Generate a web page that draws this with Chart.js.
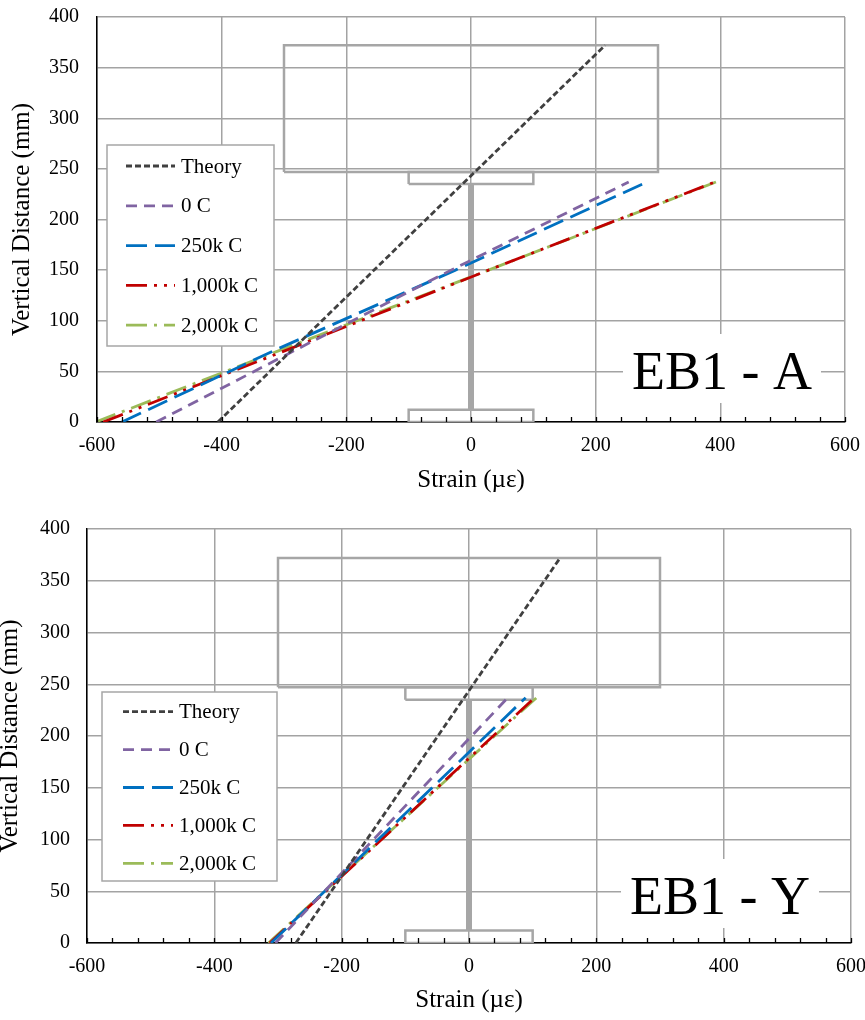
<!DOCTYPE html>
<html>
<head>
<meta charset="utf-8">
<script src="https://cdn.jsdelivr.net/npm/chart.js@4.4.0/dist/chart.umd.min.js"></script>
<style>
  body { margin: 0; background: #fff; }
  .box { position: absolute; left: 0; width: 865px; }
</style>
</head>
<body>
<div class="box" style="top:0;height:505px"><canvas id="chartA" width="865" height="505"></canvas></div>
<div class="box" style="top:505px;height:515px"><canvas id="chartY" width="865" height="515"></canvas></div>
<script>
// axis ticks
const strainTicks = [-600, -400, -200, 0, 200, 400, 600];
const heightTicks = [0, 50, 100, 150, 200, 250, 300, 350, 400];
const minorStep = 40;

const seriesLabels = ['Theory', '0 C', '250k C', '1,000k C', '2,000k C'];

// heights of the points (mm)
const theoryHeights = [0, 372];
const gaugeHeights = [0, 70, 150, 237];

// EB1 - A strains (µε)
const theoryA = [-406, 215];
const strain0A = [-505, -285, -32, 253];
const strain250A = [-560, -318, -25, 282];
const strain1000A = [-590, -300, 28, 391];
const strain2000A = [-602, -310, 28, 393];

// EB1 - Y strains (µε)
const theoryY = [-272, 143];
const strain0Y = [-304, -196, -73, 61];
const strain250Y = [-311, -193, -58, 89];
const strain1000Y = [-313, -190, -50, 103];
const strain2000Y = [-315, -191, -49, 106];

// beam section outline drawn behind the data
const slabX = [-300, 300, 300, -300, -300];
const slabY = [247, 247, 372, 372, 247];
const flangeX = [-100, 100, 100, -100, -100];
const topFlangeY = [235, 235, 247, 247, 235];
const botFlangeY = [0, 0, 12, 12, 0];
const webX = [0, 0];
const webY = [12, 235];

const serif = "'Liberation Serif', 'Times New Roman', serif";
const gridGray = '#a3a3a3';
const beamGray = '#a6a6a6';

const lineStyles = [
    { color: '#404040', dash: [6, 3] },
    { color: '#8064A2', dash: [11, 7] },
    { color: '#0070C0', dash: [21, 8] },
    { color: '#C00000', dash: [21, 7, 3, 7, 3, 7] },
    { color: '#9BBB59', dash: [21, 7, 3, 7] }
];

function pts(xs, ys) {
    return xs.map(function (x, i) { return { x: x, y: ys[i] }; });
}

function beamSet(xs, ys, w) {
    return {
        data: pts(xs, ys), showLine: true, pointRadius: 0,
        borderColor: beamGray, borderWidth: w, order: 20, inLegend: false
    };
}

// legend box inside the plot
const boxLegend = {
    id: 'boxLegend',
    afterDraw: function (chart, args, o) {
        const ctx = chart.ctx;
        ctx.save();
        ctx.fillStyle = '#fff';
        ctx.fillRect(o.x, o.y, o.w, o.h);
        ctx.strokeStyle = beamGray;
        ctx.lineWidth = 1.5;
        ctx.strokeRect(o.x, o.y, o.w, o.h);
        let row = 0;
        chart.data.datasets.forEach(function (ds) {
            if (!ds.inLegend) return;
            const y = o.rowY0 + row * o.rowGap;
            ctx.setLineDash(ds.borderDash);
            ctx.strokeStyle = ds.borderColor;
            ctx.lineWidth = ds.borderWidth;
            ctx.beginPath();
            ctx.moveTo(o.sx0, y);
            ctx.lineTo(o.sx1, y);
            ctx.stroke();
            ctx.setLineDash([]);
            ctx.fillStyle = '#000';
            ctx.font = '21px ' + serif;
            ctx.textBaseline = 'middle';
            ctx.fillText(ds.label, o.tx, y + 1);
            row++;
        });
        ctx.restore();
    }
};

// "EB1 - A" style tag with white backing
const tagLabel = {
    id: 'tagLabel',
    beforeDatasetsDraw: function (chart, args, o) {
        const ctx = chart.ctx;
        ctx.save();
        ctx.font = '54px ' + serif;
        const w = ctx.measureText(o.text).width;
        ctx.fillStyle = '#fff';
        ctx.fillRect(o.x - 9, o.y - 55, w + 18, 69);
        ctx.fillStyle = '#000';
        ctx.textBaseline = 'alphabetic';
        ctx.fillText(o.text, o.x, o.y);
        ctx.restore();
    }
};

// small tick marks along the strain axis
const minorTicks = {
    id: 'minorTicks',
    afterDraw: function (chart) {
        const xs = chart.scales.x;
        const bottom = chart.chartArea.bottom;
        const ctx = chart.ctx;
        ctx.save();
        ctx.strokeStyle = '#000';
        ctx.lineWidth = 1.3;
        for (let v = strainTicks[0]; v <= strainTicks[strainTicks.length - 1]; v += minorStep) {
            const px = Math.round(xs.getPixelForValue(v)) + 0.5;
            ctx.beginPath();
            ctx.moveTo(px, bottom);
            ctx.lineTo(px, bottom - 5);
            ctx.stroke();
        }
        ctx.restore();
    }
};

function buildChart(id, theory, series, g) {
    const datasets = [
        beamSet(slabX, slabY, 2.5),
        beamSet(flangeX, topFlangeY, 2.5),
        beamSet(flangeX, botFlangeY, 2.5),
        beamSet(webX, webY, 6)
    ];
    const all = [pts(theory, theoryHeights)].concat(series.map(function (s) { return pts(s, gaugeHeights); }));
    all.forEach(function (d, i) {
        datasets.push({
            label: seriesLabels[i], data: d, showLine: true, pointRadius: 0,
            borderColor: lineStyles[i].color, borderDash: lineStyles[i].dash,
            borderWidth: 2.8, order: i + 1, inLegend: true
        });
    });

    function noPad(s) { s.paddingTop = 0; s.paddingBottom = 0; s.paddingLeft = 0; s.paddingRight = 0; }

    return new Chart(document.getElementById(id), {
        type: 'scatter',
        data: { datasets: datasets },
        options: {
            responsive: false,
            devicePixelRatio: 1,
            animation: false,
            layout: { padding: { top: g.top, right: g.right, left: 0, bottom: 0 } },
            scales: {
                x: {
                    type: 'linear', min: -600, max: 600,
                    afterBuildTicks: function (s) { s.ticks = strainTicks.map(function (v) { return { value: v }; }); },
                    afterFit: function (s) { s.height = g.xh; noPad(s); },
                    ticks: { color: '#000', font: { family: serif, size: 20 }, padding: 12, maxRotation: 0 },
                    grid: { color: gridGray, lineWidth: 1.5, drawTicks: false },
                    border: { color: '#000', width: 1.5 },
                    title: {
                        display: true, text: 'Strain (µε)', color: '#000',
                        font: { family: serif, size: 25 }, padding: { top: 0, bottom: g.xtp }
                    }
                },
                y: {
                    type: 'linear', min: 0, max: 400,
                    afterBuildTicks: function (s) { s.ticks = heightTicks.map(function (v) { return { value: v }; }); },
                    afterFit: function (s) { s.width = g.yw; noPad(s); },
                    ticks: { color: '#000', font: { family: serif, size: 20 }, padding: g.ytp },
                    grid: { color: gridGray, lineWidth: 1.5, drawTicks: false },
                    border: { color: '#000', width: 1.5 },
                    title: {
                        display: true, text: 'Vertical Distance (mm)', color: '#000',
                        font: { family: serif, size: 25 }, padding: { top: g.ytitle, bottom: 0 }
                    }
                }
            },
            plugins: {
                legend: { display: false },
                tooltip: { enabled: false },
                boxLegend: g.legend,
                tagLabel: g.tag
            }
        },
        plugins: [tagLabel, minorTicks, boxLegend]
    });
}

buildChart('chartA', theoryA, [strain0A, strain250A, strain1000A, strain2000A], {
    top: 17, right: 20, xh: 83, yw: 97, xtp: 10, ytp: 18, ytitle: 7,
    legend: { x: 107, y: 145, w: 167, h: 201, rowY0: 166, rowGap: 39.8, sx0: 126, sx1: 175, tx: 181 },
    tag: { text: 'EB1 - A', x: 632, y: 389 }
});

buildChart('chartY', theoryY, [strain0Y, strain250Y, strain1000Y, strain2000Y], {
    top: 24, right: 14, xh: 77, yw: 87, xtp: 5, ytp: 17, ytitle: -5,
    legend: { x: 102, y: 187, w: 175, h: 189, rowY0: 206.7, rowGap: 37.9, sx0: 123, sx1: 173, tx: 179 },
    tag: { text: 'EB1 - Y', x: 630, y: 409 }
});
</script>
</body>
</html>
